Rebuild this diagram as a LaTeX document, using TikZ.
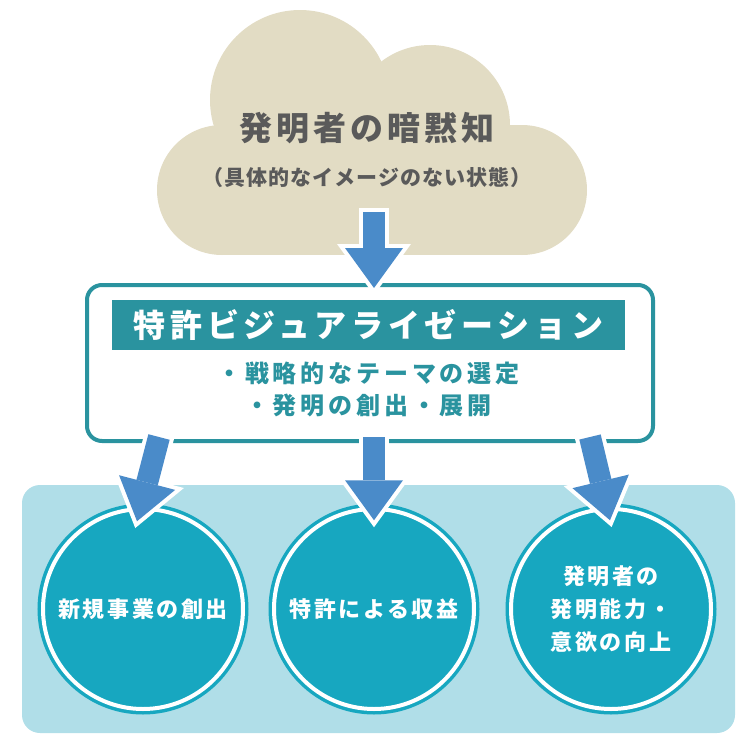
\documentclass[tikz,border=0pt]{standalone}
\usepackage{fontspec}
\setmainfont{Noto Sans CJK JP}
\usetikzlibrary{arrows.meta,
                  calc,
                  positioning}
\definecolor{cloudbeige}{HTML}{E2DCC4}
\definecolor{inkgray}{HTML}{5A5A5A}
\definecolor{boxteal}{HTML}{2A939F}
\definecolor{arrowblue}{HTML}{4A8BC9}
\definecolor{panelblue}{HTML}{B0DEE8}
\definecolor{goalteal}{HTML}{17A7C0}

\begin{document}
\begin{tikzpicture}[x=1pt, y=-1pt, every node/.style={inner sep=0pt}]
    \tikzset{
    cloudtext/.style={text=inkgray, font=\bfseries\fontsize{33}{36}\selectfont\addfontfeature{LetterSpace=12}},
    cloudsub/.style={text=inkgray, font=\bfseries\fontsize{21}{26}\selectfont\addfontfeature{LetterSpace=5}},
    vizbox/.style={draw=boxteal, line width=4pt, rounded corners=15pt, fill=white, minimum width=566pt, minimum height=156pt},
    titlebar/.style={fill=boxteal, text=white, minimum width=513pt, minimum height=50pt, font=\bfseries\fontsize{32}{36}\selectfont\addfontfeature{LetterSpace=15}},
    bullets/.style={text=boxteal, align=center, font=\bfseries\fontsize{24}{32}\selectfont\addfontfeature{LetterSpace=16}},
    panel/.style={fill=panelblue, rounded corners=18pt, minimum width=713pt, minimum height=248pt},
    goal/.style={circle, fill=goalteal, draw=goalteal, line width=3.5pt, double=white, double distance=4pt, minimum size=200pt, text=white, align=center, font=\bfseries\fontsize{22}{33}\selectfont\addfontfeature{LetterSpace=12}},
    halo/.style={draw=white, line width=30pt, -{Triangle[width=74pt,length=51pt,line width=0pt]}, shorten >=-7pt, shorten <=-4pt},
    barrow/.style={draw=arrowblue, line width=22pt, -{Triangle[width=58pt,length=40pt,line width=0pt]}}
}
\newcommand{\bigarrow}[2]{\path[halo] #1 -- #2; \path[barrow] #1 -- #2;}
\useasboundingbox (0,0) rectangle (750,750);

% cloud
\fill[cloudbeige] (300,100) circle (90);
\fill[cloudbeige] (430,125) circle (80);
\fill[cloudbeige] (222,190) circle (65);
\fill[cloudbeige] (522,190) circle (65);
\fill[cloudbeige] (222,125) rectangle (522,255);
\node [cloudtext] (tacit) at (367,128) {発明者の暗黙知};
\node [cloudsub, below=50pt of tacit.center, anchor=center] (tacitsub) {（具体的なイメージのない状態）};

% visualization box
\node [vizbox] (vizbox) at (370,363) {};
\node [titlebar] (vistitle) at (368.5,325) {特許ビジュアライゼーション};
\node [bullets, below=37pt of vistitle.center, anchor=north] (themes) {・戦略的なテーマの選定\\・発明の創出・展開};

% outcomes
\node [panel] (outcomes) at (378.5,609) {};
\node [goal] (newbiz) at (143,609) {新規事業の創出};
\node [goal] (revenue) at (374,609) {特許による収益};
\node [goal] (inventor) at (611,609) {発明者の\\発明能力・\\意欲の向上};

% arrows
\bigarrow{($(tacitsub.south)+(7,24)$)}{($(vizbox.north)+(4,5)$)}
\bigarrow{($(vizbox.south)+(-211,-6)$)}{($(newbiz.north)+(-6,14)$)}
\bigarrow{($(vizbox.south)+(4,-6)$)}{($(revenue.north)+(0,13)$)}
\bigarrow{($(vizbox.south)+(220,-6)$)}{($(inventor.north)+(-1,13)$)}

\end{tikzpicture}
\end{document}
